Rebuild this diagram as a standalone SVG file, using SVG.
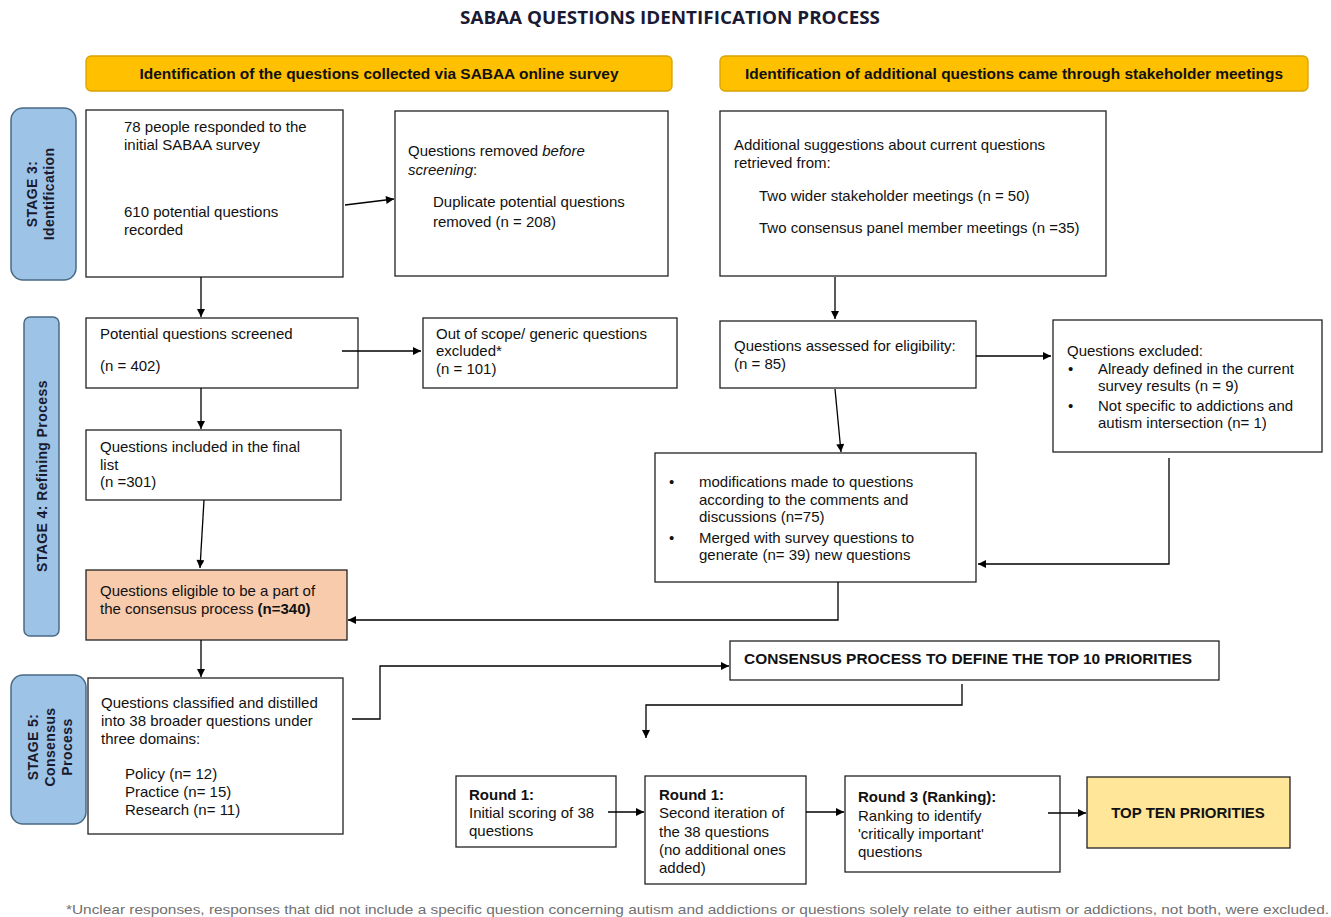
<svg xmlns="http://www.w3.org/2000/svg" width="1331" height="917" viewBox="0 0 1331 917">
<defs>
<marker id="arr" viewBox="0 0 10 10" refX="10" refY="5" markerWidth="9" markerHeight="8" markerUnits="userSpaceOnUse" orient="auto">
<path d="M0,0 L10,5 L0,10 z" fill="#000"/>
</marker>
<style>
.t{font-family:"Liberation Sans",Arial,sans-serif;font-size:15px;fill:#111;}
.b{font-weight:bold;}
.i{font-style:italic;}
.box{fill:#fff;stroke:#222;stroke-width:1.3;}
.ban{fill:#FFC000;stroke:#D9A300;stroke-width:1.3;}
.stg{fill:#9DC3E6;stroke:#4A6A85;stroke-width:1.5;}
.st{font-family:"Liberation Sans",Arial,sans-serif;font-size:14px;font-weight:bold;fill:#1a1a2e;text-anchor:middle;letter-spacing:0.4px;}
.bt{font-family:"Liberation Sans",Arial,sans-serif;font-size:15px;font-weight:bold;fill:#111;text-anchor:middle;}
.c{fill:none;stroke:#000;stroke-width:1.3;marker-end:url(#arr);}
</style>
</defs>
<rect width="1331" height="917" fill="#fff"/>

<text x="670" y="24" font-family="'Open Sans','Liberation Sans',sans-serif" font-size="17" font-weight="bold" fill="#1a1a33" text-anchor="middle" textLength="420" lengthAdjust="spacingAndGlyphs">SABAA QUESTIONS IDENTIFICATION PROCESS</text>

<g id="banner1"><rect class="ban" x="86" y="56" width="586" height="35" rx="5"/><text class="bt" x="379" y="79" textLength="479" lengthAdjust="spacingAndGlyphs">Identification of the questions collected via SABAA online survey</text></g>
<g id="banner2"><rect class="ban" x="720" y="56" width="588" height="35" rx="5"/><text class="bt" x="1014" y="79" textLength="538" lengthAdjust="spacingAndGlyphs">Identification of additional questions came through stakeholder meetings</text></g>

<g id="stage3"><rect class="stg" x="11" y="108" width="65" height="172" rx="12"/>
<text class="st" transform="translate(37,194) rotate(-90)">STAGE 3:</text>
<text class="st" transform="translate(54,194) rotate(-90)">Identification</text></g>
<g id="stage4"><rect class="stg" x="24" y="317" width="35" height="319" rx="6"/>
<text class="st" transform="translate(47,476) rotate(-90)">STAGE 4: Refining Process</text></g>
<g id="stage5"><rect class="stg" x="11" y="675" width="75" height="149" rx="12"/>
<text class="st" transform="translate(38,747) rotate(-90)">STAGE 5:</text>
<text class="st" transform="translate(55,747) rotate(-90)">Consensus</text>
<text class="st" transform="translate(72,747) rotate(-90)">Process</text></g>

<g id="boxA"><rect class="box" x="86" y="110" width="257" height="167"/>
<text class="t" x="124" y="132">78 people responded to the</text>
<text class="t" x="124" y="150">initial SABAA survey</text>
<text class="t" x="124" y="217">610 potential questions</text>
<text class="t" x="124" y="235">recorded</text></g>

<g id="boxB"><rect class="box" x="395" y="111" width="273" height="165"/>
<text class="t" x="408" y="156">Questions removed <tspan class="i">before</tspan></text>
<text class="t" x="408" y="175"><tspan class="i">screening</tspan>:</text>
<text class="t" x="433" y="207">Duplicate potential questions</text>
<text class="t" x="433" y="227">removed (n = 208)</text></g>

<g id="boxC"><rect class="box" x="720" y="111" width="386" height="165"/>
<text class="t" x="734" y="150">Additional suggestions about current questions</text>
<text class="t" x="734" y="168">retrieved from:</text>
<text class="t" x="759" y="201">Two wider stakeholder meetings (n = 50)</text>
<text class="t" x="759" y="233">Two consensus panel member meetings (n =35)</text></g>

<g id="boxD"><rect class="box" x="86" y="318" width="272" height="70"/>
<text class="t" x="100" y="339">Potential questions screened</text>
<text class="t" x="100" y="371">(n = 402)</text></g>

<g id="boxF"><rect class="box" x="423" y="318" width="254" height="70"/>
<text class="t" x="436" y="339">Out of scope/ generic questions</text>
<text class="t" x="436" y="356">excluded*</text>
<text class="t" x="436" y="374">(n = 101)</text></g>

<g id="boxG"><rect class="box" x="86" y="430" width="255" height="70"/>
<text class="t" x="100" y="452">Questions included in the final</text>
<text class="t" x="100" y="470">list</text>
<text class="t" x="100" y="487">(n =301)</text></g>

<g id="boxH"><rect class="box" x="86" y="570" width="261" height="70" style="fill:#F8CBAD"/>
<text class="t" x="100" y="596">Questions eligible to be a part of</text>
<text class="t" x="100" y="614">the consensus process <tspan class="b">(n=340)</tspan></text></g>

<g id="boxE"><rect class="box" x="720" y="321" width="256" height="67"/>
<text class="t" x="734" y="351">Questions assessed for eligibility:</text>
<text class="t" x="734" y="369">(n = 85)</text></g>

<g id="boxI"><rect class="box" x="1053" y="320" width="269" height="132"/>
<text class="t" x="1067" y="356">Questions excluded:</text>
<text class="t" x="1068" y="374">•</text>
<text class="t" x="1098" y="374">Already defined in the current</text>
<text class="t" x="1098" y="391">survey results (n = 9)</text>
<text class="t" x="1068" y="411">•</text>
<text class="t" x="1098" y="411">Not specific to addictions and</text>
<text class="t" x="1098" y="428">autism intersection (n= 1)</text></g>

<g id="boxJ"><rect class="box" x="655" y="453" width="321" height="129"/>
<text class="t" x="669" y="487">•</text>
<text class="t" x="699" y="487">modifications made to questions</text>
<text class="t" x="699" y="505">according to the comments and</text>
<text class="t" x="699" y="522">discussions (n=75)</text>
<text class="t" x="669" y="543">•</text>
<text class="t" x="699" y="543">Merged with survey questions to</text>
<text class="t" x="699" y="560">generate (n= 39) new questions</text></g>

<g id="boxK"><rect class="box" x="88" y="678" width="255" height="156"/>
<text class="t" x="101" y="708">Questions classified and distilled</text>
<text class="t" x="101" y="726">into 38 broader questions under</text>
<text class="t" x="101" y="744">three domains:</text>
<text class="t" x="125" y="779">Policy (n= 12)</text>
<text class="t" x="125" y="797">Practice (n= 15)</text>
<text class="t" x="125" y="815">Research (n= 11)</text></g>

<g id="boxL"><rect class="box" x="730" y="641" width="489" height="39"/>
<text class="t b" x="744" y="664" textLength="448" lengthAdjust="spacingAndGlyphs">CONSENSUS PROCESS TO DEFINE THE TOP 10 PRIORITIES</text></g>

<g id="round1"><rect class="box" x="456" y="776" width="160" height="71"/>
<text class="t b" x="469" y="800">Round 1:</text>
<text class="t" x="469" y="818">Initial scoring of 38</text>
<text class="t" x="469" y="836">questions</text></g>

<g id="round2"><rect class="box" x="645" y="776" width="161" height="108"/>
<text class="t b" x="659" y="800">Round 1:</text>
<text class="t" x="659" y="818">Second iteration of</text>
<text class="t" x="659" y="837">the 38 questions</text>
<text class="t" x="659" y="855">(no additional ones</text>
<text class="t" x="659" y="873">added)</text></g>

<g id="round3"><rect class="box" x="845" y="776" width="215" height="96"/>
<text class="t b" x="858" y="802">Round 3 (Ranking):</text>
<text class="t" x="858" y="821">Ranking to identify</text>
<text class="t" x="858" y="839">'critically important'</text>
<text class="t" x="858" y="857">questions</text></g>

<g id="topten"><rect class="box" x="1087" y="777" width="203" height="71" style="fill:#FFE699"/>
<text class="t b" x="1188" y="818" text-anchor="middle">TOP TEN PRIORITIES</text></g>

<g id="connectors">
<path class="c" d="M345,205 L394,199"/>
<path class="c" d="M201,277 L201,317"/>
<path class="c" d="M835,277 L835,319"/>
<path class="c" d="M342,351 L421,351"/>
<path class="c" d="M201,388 L201,429"/>
<path class="c" d="M204,500 L200,568"/>
<path class="c" d="M976,356 L1051,356"/>
<path class="c" d="M835,389 L841,452"/>
<path class="c" d="M1169,458 L1169,564 L978,564"/>
<path class="c" d="M838,582 L838,620 L348,620"/>
<path class="c" d="M201,640 L201,677"/>
<path class="c" d="M352,719 L380,719 L380,666 L729,666"/>
<path class="c" d="M962,684 L962,705 L646,705 L646,738"/>
<path class="c" d="M608,812 L644,812"/>
<path class="c" d="M806,812 L844,812"/>
<path class="c" d="M1048,813 L1086,813"/>
</g>

<text x="66" y="914" font-family="'Liberation Sans',Arial,sans-serif" font-size="13" fill="#707070" textLength="1263" lengthAdjust="spacingAndGlyphs">*Unclear responses, responses that did not include a specific question concerning autism and addictions or questions solely relate to either autism or addictions, not both, were excluded.</text>
</svg>
